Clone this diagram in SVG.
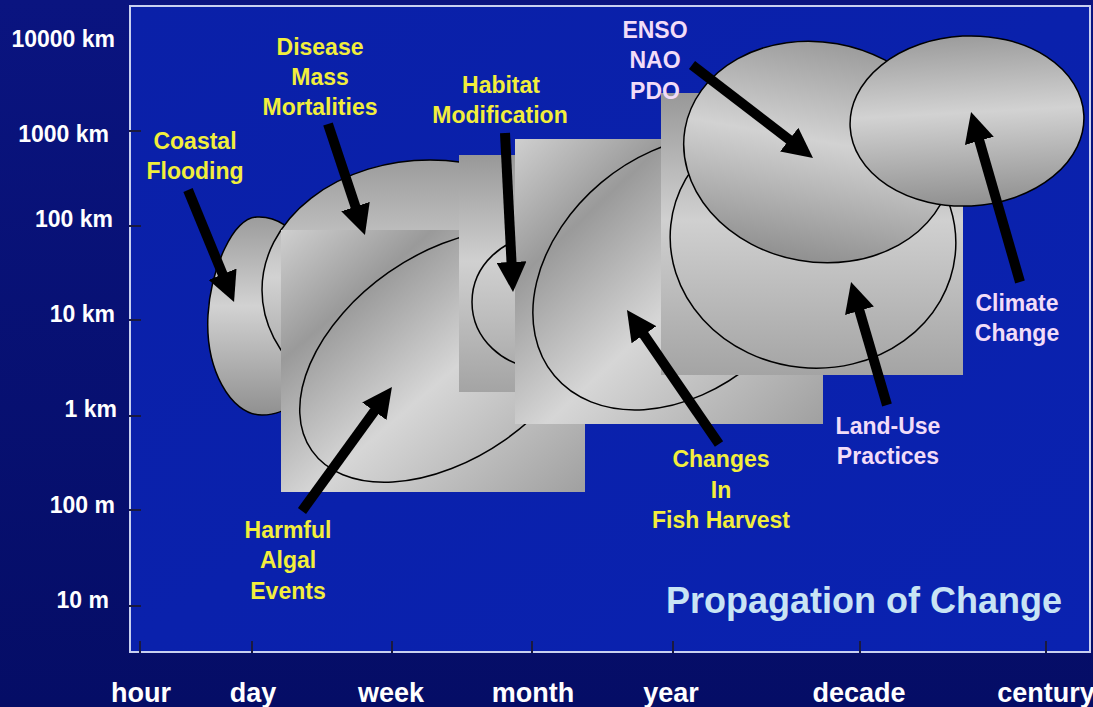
<svg xmlns="http://www.w3.org/2000/svg" width="1093" height="707" viewBox="0 0 1093 707">
<defs>
<linearGradient id="bgOuter" x1="0" y1="0" x2="0" y2="1">
<stop offset="0" stop-color="#0a1480"/>
<stop offset="1" stop-color="#050d66"/>
</linearGradient>
<linearGradient id="bgInner" x1="0" y1="0" x2="1" y2="1">
<stop offset="0" stop-color="#0a20a8"/>
<stop offset="1" stop-color="#0a22b0"/>
</linearGradient>
<linearGradient id="gDiag" x1="0" y1="0" x2="1" y2="1">
<stop offset="0" stop-color="#cfcfcf"/>
<stop offset="0.25" stop-color="#9a9a9a"/>
<stop offset="0.55" stop-color="#d6d6d6"/>
<stop offset="1" stop-color="#a0a0a0"/>
</linearGradient>
<linearGradient id="gVert" x1="0" y1="0" x2="0" y2="1">
<stop offset="0" stop-color="#9c9c9c"/>
<stop offset="0.45" stop-color="#d2d2d2"/>
<stop offset="1" stop-color="#909090"/>
</linearGradient>
<linearGradient id="gRect4" x1="0" y1="0" x2="0" y2="1">
<stop offset="0" stop-color="#989898"/>
<stop offset="0.45" stop-color="#d0d0d0"/>
<stop offset="1" stop-color="#a4a4a4"/>
</linearGradient>
<marker id="ah" viewBox="0 0 30 30" markerWidth="30" markerHeight="30" markerUnits="userSpaceOnUse" refX="2" refY="15" orient="auto">
<path d="M0,0 L30,15 L0,30 Z" fill="#000"/>
</marker>
<style>
.blob{stroke:#000;stroke-width:1.5}
.ring{fill:none;stroke:#000;stroke-width:1.5}
.arr{stroke:#000;stroke-width:10;fill:none;marker-end:url(#ah)}
.lbl{font-family:"Liberation Sans",Arial,sans-serif;font-weight:bold;font-size:23px;text-anchor:middle}
.y{fill:#f2ee3c}
.p{fill:#f2dcf8}
.ax{font-family:"Liberation Sans",Arial,sans-serif;font-weight:bold;font-size:23px;fill:#fff;text-anchor:end}
.xl{font-family:"Liberation Sans",Arial,sans-serif;font-weight:bold;font-size:27px;fill:#fff;text-anchor:middle}
.tick{stroke:#1a1a40;stroke-width:2}
</style>
</defs>

<rect x="0" y="0" width="1093" height="707" fill="url(#bgOuter)"/>
<rect x="130" y="6" width="960" height="646" fill="url(#bgInner)" stroke="#c8d0f0" stroke-width="2"/>

<g id="axes">
<line class="tick" x1="129" y1="131" x2="141" y2="131"/>
<line class="tick" x1="129" y1="226" x2="141" y2="226"/>
<line class="tick" x1="129" y1="320" x2="141" y2="320"/>
<line class="tick" x1="129" y1="416" x2="141" y2="416"/>
<line class="tick" x1="129" y1="510" x2="141" y2="510"/>
<line class="tick" x1="129" y1="606" x2="141" y2="606"/>
<line class="tick" x1="140" y1="641" x2="140" y2="653"/>
<line class="tick" x1="252" y1="641" x2="252" y2="653"/>
<line class="tick" x1="392" y1="641" x2="392" y2="653"/>
<line class="tick" x1="532" y1="641" x2="532" y2="653"/>
<line class="tick" x1="673" y1="641" x2="673" y2="653"/>
<line class="tick" x1="860" y1="641" x2="860" y2="653"/>
<line class="tick" x1="1046" y1="641" x2="1046" y2="653"/>
<text class="ax" x="115" y="47">10000 km</text>
<text class="ax" x="109" y="142">1000 km</text>
<text class="ax" x="113" y="227">100 km</text>
<text class="ax" x="115" y="322">10 km</text>
<text class="ax" x="117" y="417">1 km</text>
<text class="ax" x="115" y="513">100 m</text>
<text class="ax" x="109" y="608">10 m</text>
<text class="xl" x="141" y="702">hour</text>
<text class="xl" x="253" y="702">day</text>
<text class="xl" x="391" y="702">week</text>
<text class="xl" x="533" y="702">month</text>
<text class="xl" x="671" y="702">year</text>
<text class="xl" x="859" y="702">decade</text>
<text class="xl" x="1046" y="702">century</text>
</g>

<g id="coastal-flooding">
<path class="blob" fill="url(#gVert)" d="M257,217 C233,218 211,268 208,315 C205,368 230,415 262,415 C290,415 305,395 305,370 L305,250 C295,228 276,216 257,217 Z"/>
</g>
<g id="disease">
<ellipse class="blob" fill="url(#gVert)" cx="430" cy="290" rx="168" ry="130"/>
</g>
<g id="harmful-algal">
<rect x="281" y="230" width="304" height="262" fill="url(#gDiag)"/>
<ellipse class="ring" cx="447" cy="356" rx="165" ry="102" transform="rotate(-35 447 356)"/>
</g>
<g id="habitat">
<rect x="459" y="155" width="56" height="237" fill="url(#gRect4)"/>
<ellipse class="ring" cx="542" cy="302" rx="70" ry="66"/>
</g>
<g id="fish-harvest">
<rect x="515" y="139" width="308" height="285" fill="url(#gDiag)"/>
<ellipse class="ring" cx="677" cy="273" rx="160" ry="118" transform="rotate(-40 677 273)"/>
</g>
<g id="land-use">
<rect x="661" y="93" width="302" height="282" fill="url(#gRect4)"/>
<ellipse class="ring" cx="813" cy="240" rx="143" ry="128" transform="rotate(6 813 240)"/>
</g>
<g id="enso">
<ellipse class="blob" fill="url(#gVert)" cx="818" cy="152" rx="135" ry="110" transform="rotate(10 818 152)"/>
</g>
<g id="climate">
<ellipse class="blob" fill="url(#gVert)" cx="967" cy="121" rx="117" ry="85" transform="rotate(-3 967 121)"/>
</g>

<g id="connectors">
<line class="arr" x1="188" y1="190" x2="223.4" y2="276.1"/>
<line class="arr" x1="328" y1="124" x2="356.1" y2="208.5"/>
<line class="arr" x1="505" y1="133" x2="511.6" y2="264"/>
<line class="arr" x1="692" y1="65" x2="790.8" y2="140.9"/>
<line class="arr" x1="1020" y1="282" x2="978.8" y2="138.9"/>
<line class="arr" x1="887" y1="405" x2="858.9" y2="308.9"/>
<line class="arr" x1="719" y1="444" x2="642.8" y2="333.1"/>
<line class="arr" x1="302" y1="511" x2="375.5" y2="409.6"/>
</g>

<g id="labels">
<text class="lbl y" x="195" y="149">Coastal</text>
<text class="lbl y" x="195" y="179">Flooding</text>
<text class="lbl y" x="320" y="55">Disease</text>
<text class="lbl y" x="320" y="85">Mass</text>
<text class="lbl y" x="320" y="115">Mortalities</text>
<text class="lbl y" x="501" y="93">Habitat</text>
<text class="lbl y" x="500" y="123">Modification</text>
<text class="lbl p" x="655" y="38">ENSO</text>
<text class="lbl p" x="655" y="68">NAO</text>
<text class="lbl p" x="655" y="99">PDO</text>
<text class="lbl p" x="1017" y="311">Climate</text>
<text class="lbl p" x="1017" y="341">Change</text>
<text class="lbl p" x="888" y="434">Land-Use</text>
<text class="lbl p" x="888" y="464">Practices</text>
<text class="lbl y" x="721" y="467">Changes</text>
<text class="lbl y" x="721" y="498">In</text>
<text class="lbl y" x="721" y="528">Fish Harvest</text>
<text class="lbl y" x="288" y="538">Harmful</text>
<text class="lbl y" x="288" y="568">Algal</text>
<text class="lbl y" x="288" y="599">Events</text>
<text x="864" y="613" font-family="'Liberation Sans',Arial,sans-serif" font-weight="bold" font-size="36" fill="#c8e4f4" text-anchor="middle">Propagation of Change</text>
</g>
</svg>
